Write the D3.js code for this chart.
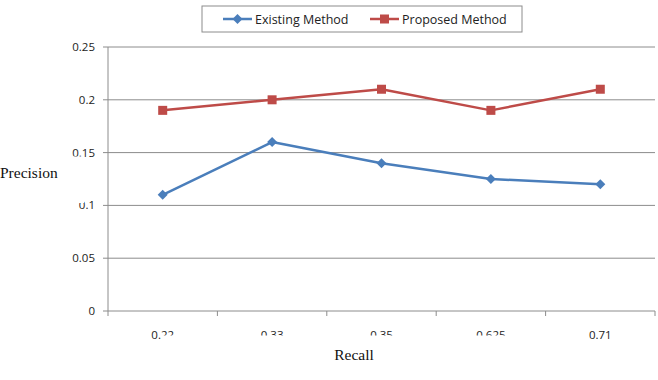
<!DOCTYPE html>
<html lang="en">
<head>
    <meta charset="UTF-8">
    <title>Precision vs Recall</title>
    <script src="https://d3js.org/d3.v7.min.js"></script>
    <style>
        body { margin: 0; background: #fff; }
        .tick-label { font-family: "Open Sans", Arial, sans-serif; font-size: 11.5px; fill: #222; }
        .axis-title { font-family: "Liberation Serif", "Times New Roman", serif; font-size: 15.5px; fill: #111; }
        .legend-text { font-family: "Open Sans", Arial, sans-serif; font-size: 12.5px; fill: #222; }
    </style>
</head>
<body>
    <svg width="658" height="380"></svg>
    <script>
        const width = 658, height = 380;

        const recall = ["0.22", "0.33", "0.35", "0.625", "0.71"];
        const existingMethod = [0.11, 0.16, 0.14, 0.125, 0.12];
        const proposedMethod = [0.19, 0.2, 0.21, 0.19, 0.21];
        const yTicks = [0, 0.05, 0.1, 0.15, 0.2, 0.25];
        const yTickLabels = ["0", "0.05", "0.1", "0.15", "0.2", "0.25"];

        const series = [
            { name: "Existing Method", values: existingMethod, color: "#4a7ebb", shape: "diamond" },
            { name: "Proposed Method", values: proposedMethod, color: "#be4b48", shape: "square" }
        ];

        const plot = { left: 108, right: 655, top: 47, bottom: 311 };
        const svg = d3.select("svg");

        const x = d3.scaleBand().domain(recall).range([plot.left, plot.right]);
        const y = d3.scaleLinear().domain([0, 0.25]).range([plot.bottom, plot.top]);

        // gridlines
        svg.append("g").selectAll("line").data(yTicks.slice(1)).enter().append("line")
            .attr("x1", plot.left).attr("x2", plot.right)
            .attr("y1", d => y(d)).attr("y2", d => y(d))
            .attr("stroke", "#8c8c8c").attr("stroke-width", 1);

        // y axis
        svg.append("line")
            .attr("x1", plot.left).attr("x2", plot.left)
            .attr("y1", plot.top).attr("y2", plot.bottom)
            .attr("stroke", "#8c8c8c");
        svg.append("g").selectAll("line").data(yTicks).enter().append("line")
            .attr("x1", plot.left - 5).attr("x2", plot.left)
            .attr("y1", d => y(d)).attr("y2", d => y(d))
            .attr("stroke", "#8c8c8c");
        svg.append("g").selectAll("text").data(yTicks).enter().append("text")
            .attr("class", "tick-label")
            .attr("x", 95).attr("y", d => y(d) + 4)
            .attr("text-anchor", "end")
            .text((d, i) => yTickLabels[i]);

        // x axis
        svg.append("line")
            .attr("x1", plot.left).attr("x2", plot.right)
            .attr("y1", plot.bottom).attr("y2", plot.bottom)
            .attr("stroke", "#8c8c8c");
        const xEdges = recall.map(d => x(d)).concat([plot.right]);
        svg.append("g").selectAll("line").data(xEdges).enter().append("line")
            .attr("x1", d => d).attr("x2", d => d)
            .attr("y1", plot.bottom).attr("y2", plot.bottom + 5)
            .attr("stroke", "#8c8c8c");
        svg.append("g").selectAll("text").data(recall).enter().append("text")
            .attr("class", "tick-label")
            .attr("x", d => x(d) + x.bandwidth() / 2).attr("y", 339)
            .attr("text-anchor", "middle")
            .text(d => d);

        // series
        const line = d3.line()
            .x((d, i) => x(recall[i]) + x.bandwidth() / 2)
            .y(d => y(d));

        function marker(sel, s) {
            if (s.shape === "diamond") {
                sel.append("path")
                    .attr("d", "M0,-5L5,0L0,5L-5,0Z")
                    .attr("fill", s.color);
            } else {
                sel.append("rect")
                    .attr("x", -4.5).attr("y", -4.5).attr("width", 9).attr("height", 9)
                    .attr("fill", s.color);
            }
        }

        series.forEach(s => {
            svg.append("path")
                .datum(s.values)
                .attr("d", line)
                .attr("fill", "none")
                .attr("stroke", s.color)
                .attr("stroke-width", 2.5)
                .attr("stroke-linejoin", "round");
            s.values.forEach((v, i) => {
                const g = svg.append("g")
                    .attr("transform", `translate(${x(recall[i]) + x.bandwidth() / 2},${y(v)})`);
                marker(g, s);
            });
        });

        // axis title boxes (they cover part of the tick labels in the original)
        svg.append("rect").attr("x", 0).attr("y", 156.5).attr("width", 84).attr("height", 46.5).attr("fill", "#fff");
        svg.append("text").attr("class", "axis-title")
            .attr("x", 0).attr("y", 178).text("Precision");

        svg.append("rect").attr("x", 161).attr("y", 335.5).attr("width", 380).attr("height", 30).attr("fill", "#fff");
        svg.append("text").attr("class", "axis-title")
            .attr("x", 354).attr("y", 360).attr("text-anchor", "middle").text("Recall");

        // legend
        const legend = svg.append("g");
        legend.append("rect")
            .attr("x", 202).attr("y", 6).attr("width", 320).attr("height", 26)
            .attr("fill", "#fff").attr("stroke", "#8c8c8c");
        const legendX = [223, 370];
        series.forEach((s, i) => {
            const lx = legendX[i];
            legend.append("line")
                .attr("x1", lx).attr("x2", lx + 29)
                .attr("y1", 19).attr("y2", 19)
                .attr("stroke", s.color).attr("stroke-width", 2.5);
            marker(legend.append("g").attr("transform", `translate(${lx + 14.5},19)`), s);
            legend.append("text").attr("class", "legend-text")
                .attr("x", lx + 32).attr("y", 23.5)
                .text(s.name);
        });
    </script>
</body>
</html>
